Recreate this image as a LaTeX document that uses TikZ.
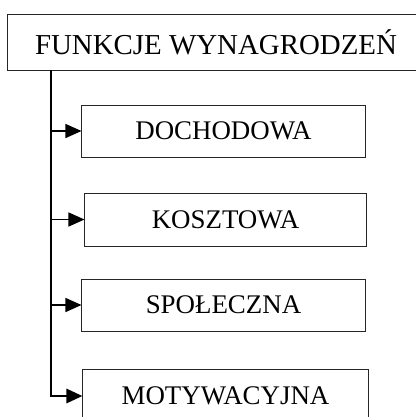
\documentclass[tikz,border=0pt]{standalone}
\usepackage{fontspec}
\setmainfont{Liberation Serif}
\usetikzlibrary{arrows.meta}
\tikzset{
  fbox/.style={draw=black!85, line width=1bp, rectangle, inner sep=0pt, font=\fontsize{27}{30}\selectfont},
  arr/.style={line width=1.3bp, -{Triangle[length=16bp,width=14bp]}},
  trunk/.style={line width=2.8bp, -{Triangle[length=16bp,width=14bp]}},
}
\begin{document}
\begin{tikzpicture}[x=1bp,y=-1bp]
\useasboundingbox (0,0) rectangle (416,417);
\begin{scope}
\clip (0,0) rectangle (416,417);
\node[fbox, minimum width=416bp, minimum height=56bp, font=\fontsize{29}{32}\selectfont] (top) at (216,42) {FUNKCJE WYNAGRODZEŃ};
\node[fbox, minimum width=283bp, minimum height=52bp] (d) at (223.5,131) {DOCHODOWA};
\node[fbox, minimum width=281bp, minimum height=53bp] (k) at (225.5,219.5) {KOSZTOWA};
\node[fbox, minimum width=283bp, minimum height=52bp] (s) at (223.5,305) {SPOŁECZNA};
\node[fbox, minimum width=285bp, minimum height=53bp] (m) at (225.5,396) {MOTYWACYJNA};
\coordinate (t0) at (51,70);
\draw[trunk] (t0) |- (m.west);
\draw[arr] (d.west -| t0) -- (d.west);
\draw[arr] (k.west -| t0) -- (k.west);
\draw[arr] (s.west -| t0) -- (s.west);
\end{scope}
\end{tikzpicture}
\end{document}
